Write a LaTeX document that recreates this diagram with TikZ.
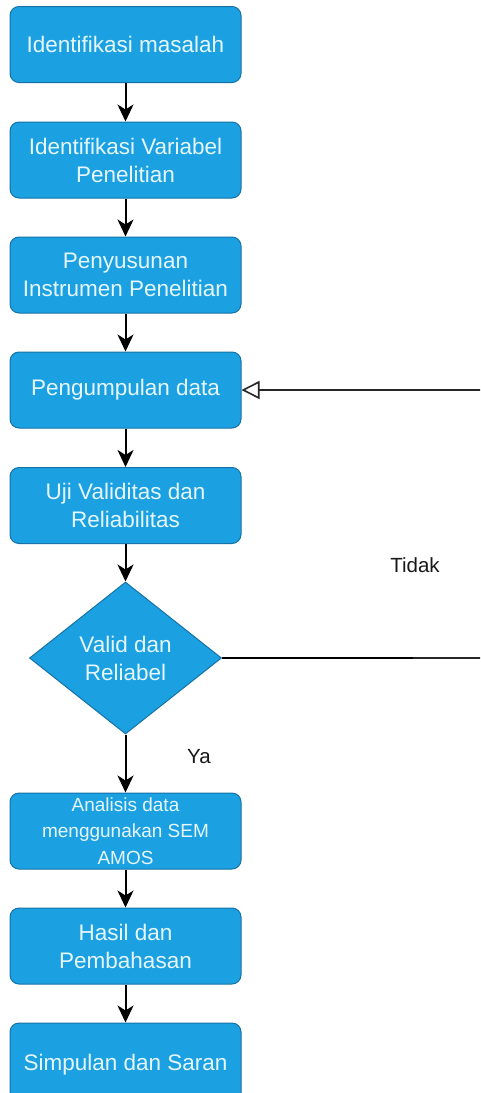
\documentclass[tikz,border=0pt]{standalone}
\usepackage{fontspec}
\setmainfont{Liberation Sans}
\usetikzlibrary{arrows.meta,shapes.geometric}
\definecolor{boxfill}{HTML}{1BA1E2}
\definecolor{boxline}{HTML}{1672A6}
\definecolor{boxtext}{HTML}{E6F6FD}
\begin{document}
\begin{tikzpicture}[x=1pt,y=-1pt,
  stepbox/.style={draw=boxline, line width=1pt, fill=boxfill, rounded corners=9pt,
    minimum width=231pt, minimum height=76pt, inner sep=0pt, align=center,
    text=boxtext, font=\fontsize{22.5}{28}\selectfont},
  smallbox/.style={stepbox, font=\fontsize{19}{26.5}\selectfont},
  decision/.style={diamond, draw=boxline, line width=1pt, fill=boxfill,
    minimum width=192pt, minimum height=152pt, inner sep=0pt, align=center,
    text=boxtext, font=\fontsize{22.5}{28}\selectfont},
  flow/.style={draw=black, line width=2pt, -{Stealth[length=17pt,width=16pt,inset=5pt]}},
  back/.style={draw=black!85, line width=1.1pt},
  lbl/.style={text=black!90, font=\fontsize{20.5}{24}\selectfont, inner sep=0pt}]
  \clip (0,0) rectangle (480,1093);
  \fill[white] (0,0) rectangle (480,1093);

  % process steps
  \node[stepbox] (s1) at (125.5,44.5) {Identifikasi masalah};
  \node[stepbox] (s2) at (125.5,160) {Identifikasi Variabel\\Penelitian};
  \node[stepbox] (s3) at (125.5,275) {Penyusunan\\Instrumen Penelitian};
  \node[stepbox] (s4) at (125.5,390) {Pengumpulan data};
  \node[stepbox] (s5) at (125.5,505.5) {Uji Validitas dan\\Reliabilitas};
  \node[decision] (d1) at (125.5,658) {Valid dan\\Reliabel};
  \node[smallbox] (s6) at (125.5,831) {Analisis data\\menggunakan SEM\\AMOS};
  \node[stepbox] (s7) at (125.5,946) {Hasil dan\\Pembahasan};
  \node[stepbox, minimum height=84pt] (s8) at (125.5,1065) {Simpulan dan Saran};

  % main flow
  \draw[flow] (s1) -- (s2);
  \draw[flow] (s2) -- (s3);
  \draw[flow] (s3) -- (s4);
  \draw[flow] (s4) -- (s5);
  \draw[flow] (s5) -- (d1);
  \draw[flow] (d1) -- (s6);
  \draw[flow] (s6) -- (s7);
  \draw[flow] (s7) -- (s8);

  % loop back when the test fails
  \coordinate (e1) at (413,658);
  \coordinate (e2) at (482,658);
  \coordinate (e3) at (482,390);
  \draw[draw=black, line width=2.2pt] (d1.east) -- (e1);
  \draw[back] (e1) -- (e2);
  \draw[back, -{Triangle[open, length=18pt, width=18pt, line width=1.6pt]}] (e3) -- (s4.east);

  % branch labels
  \node[lbl] (tidak) at (415,565) {Tidak};
  \node[lbl] (ya) at (199,757) {Ya};
\end{tikzpicture}
\end{document}
